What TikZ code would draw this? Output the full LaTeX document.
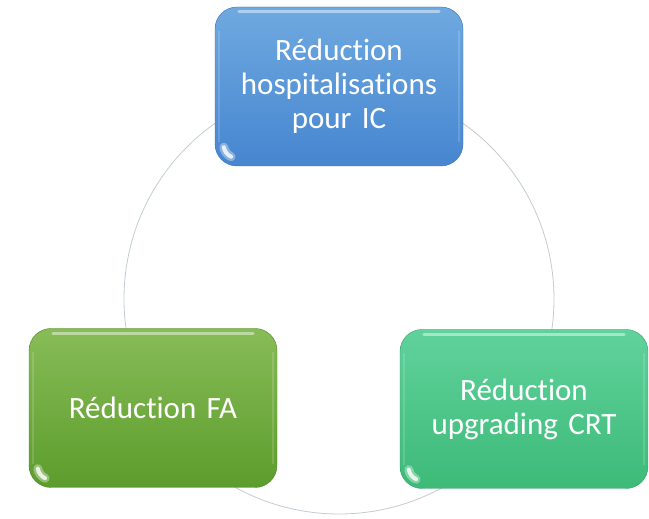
\documentclass[tikz,border=0pt]{standalone}
\usepackage{fontspec}
\setmainfont{Carlito}[Ligatures={NoCommon}, WordSpace=0.8]
\definecolor{blueTop}{HTML}{6FA9E0}
\definecolor{blueBot}{HTML}{4686D0}
\definecolor{oliveTop}{HTML}{88BC58}
\definecolor{oliveBot}{HTML}{5C9C2C}
\definecolor{mintTop}{HTML}{60D29C}
\definecolor{mintBot}{HTML}{3DBA78}
\definecolor{ringLine}{HTML}{C2CCD2}
\begin{document}
\begin{tikzpicture}[x=1pt,y=1pt,
  card/.style={rounded corners=22pt, minimum width=248pt, minimum height=159pt,
    text width=236pt, align=center, inner sep=0pt, text=white,
    font=\fontsize{31}{34}\selectfont},
  gloss/.style={white, opacity=0.45, line width=3pt, line cap=round},
  glare/.style={white, opacity=0.8, line width=4pt, line cap=round},
  haze/.style={white, opacity=0.35, line width=9pt, line cap=round},
  sheen/.style={white, opacity=0.15, line width=2pt}]
  \useasboundingbox (0,0) rectangle (649,519);
  % ring behind the three cards
  \draw[ringLine, line width=0.8pt] (339,220) circle[radius=215];
  % cards
  \node[card, top color=blueTop, bottom color=blueBot, draw=blueBot!85!black] (hosp) at (339,432.5)
    {Réduction\\hospitalisations\\pour IC};
  \node[card, top color=oliveTop, bottom color=oliveBot, draw=oliveBot!85!black] (fa) at (153,111)
    {Réduction FA};
  \node[card, top color=mintTop, bottom color=mintBot, draw=mintBot!85!black] (crt) at (524,110)
    {Réduction\\upgrading CRT};
  % glossy highlights
  \foreach \n in {hosp,fa,crt}{
    \draw[gloss] ([xshift=24pt,yshift=-5pt]\n.north west) -- ([xshift=-24pt,yshift=-5pt]\n.north east);
    \draw[sheen] ([xshift=4pt,yshift=-24pt]\n.north west) -- ([xshift=4pt,yshift=24pt]\n.south west);
    \draw[sheen] ([xshift=-4pt,yshift=-24pt]\n.north east) -- ([xshift=-4pt,yshift=24pt]\n.south east);
    \draw[haze] ([xshift=9pt,yshift=19pt]\n.south west) arc[start angle=190, end angle=245, radius=13pt];
    \draw[glare] ([xshift=9pt,yshift=19pt]\n.south west) arc[start angle=190, end angle=245, radius=13pt];
  }
\end{tikzpicture}
\end{document}
